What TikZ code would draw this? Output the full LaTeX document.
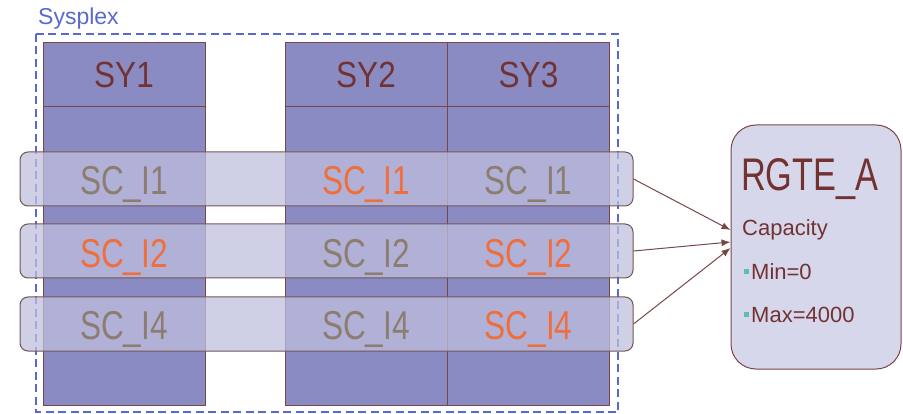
\documentclass[tikz,border=0pt]{standalone}
\usepackage{fontspec}
\setmainfont{Liberation Sans}
\usetikzlibrary{arrows.meta}
\definecolor{colfill}{RGB}{139,139,195}
\definecolor{edge}{RGB}{120,70,70}
\definecolor{bandfill}{RGB}{191,191,222}
\definecolor{bandedge}{RGB}{115,85,85}
\definecolor{grayt}{RGB}{140,125,112}
\definecolor{oranget}{RGB}{240,110,60}
\definecolor{syt}{RGB}{115,50,50}
\definecolor{sysblue}{RGB}{90,105,205}
\definecolor{boxfill}{RGB}{215,215,235}
\definecolor{teal}{RGB}{90,190,180}
\tikzset{
  colbox/.style={draw=edge,line width=1pt,fill=colfill,minimum width=162pt,minimum height=362pt,inner sep=0pt},
  band/.style={draw=bandedge,line width=1pt,fill=bandfill,fill opacity=0.75,rounded corners=8pt,minimum width=613pt,minimum height=54pt,inner sep=0pt},
  sclab/.style={anchor=base,inner sep=0pt,font=\fontsize{38}{38}\selectfont},
  sylab/.style={anchor=base,inner sep=0pt,text=syt,font=\fontsize{35}{35}\selectfont},
  arr/.style={draw=edge,line width=1pt,-{Latex[length=9pt,width=7pt]}},
  info/.style={anchor=base west,inner sep=0pt,text=syt,font=\fontsize{22}{22}\selectfont},
  bullet/.style={fill=teal,minimum size=5pt,inner sep=0pt}
}
\newcommand{\sq}[1]{\scalebox{0.83}[1.06]{#1}}
\begin{document}
\begin{tikzpicture}[x=1pt,y=-1pt]
\useasboundingbox (0,0) rectangle (903,414);
% sysplex
\node[anchor=base west,inner sep=0pt,text=sysblue,font=\fontsize{23}{23}\selectfont] (sysl) at (38,25) {Sysplex};
\draw[sysblue,line width=1.8pt,dash pattern=on 8pt off 4.5pt] (36,34) rectangle (618,412);
% columns
\node[colbox] (c1) at (124,224) {};
\node[colbox] (c2) at (366,224) {};
\node[colbox] (c3) at (528.5,224) {};
\foreach \c in {c1,c2,c3}{\draw[edge,line width=1pt] (\c.west |- 0,107) -- (\c.east |- 0,107);}
\node[sylab] (sy1) at (124,88) {\scalebox{0.9}[1.04]{SY1}};
\node[sylab] (sy2) at (366,88) {\scalebox{0.9}[1.04]{SY2}};
\node[sylab] (sy3) at (528.5,88) {\scalebox{0.9}[1.04]{SY3}};
% bands
\node[band] (b1) at (326.5,179) {};
\node[band] (b2) at (326.5,251) {};
\node[band] (b3) at (326.5,324) {};
% labels
\node[sclab,text=grayt]   (l11) at (124,195) {\sq{SC\_I1}};
\node[sclab,text=oranget] (l21) at (366,195) {\sq{SC\_I1}};
\node[sclab,text=grayt]   (l31) at (528.5,195) {\sq{SC\_I1}};
\node[sclab,text=oranget] (l12) at (124,268) {\sq{SC\_I2}};
\node[sclab,text=grayt]   (l22) at (366,268) {\sq{SC\_I2}};
\node[sclab,text=oranget] (l32) at (528.5,268) {\sq{SC\_I2}};
\node[sclab,text=grayt]   (l14) at (124,340) {\sq{SC\_I4}};
\node[sclab,text=grayt]   (l24) at (366,340) {\sq{SC\_I4}};
\node[sclab,text=oranget] (l34) at (528.5,340) {\sq{SC\_I4}};
% RGTE box
\node[draw=edge,line width=1pt,fill=boxfill,rounded corners=25pt,minimum width=170pt,minimum height=244pt,inner sep=0pt] (rg) at (816,247) {};
\node[anchor=base west,inner sep=0pt,text=syt,font=\fontsize{44}{44}\selectfont] (rgt) at (741,191) {\scalebox{0.78}[1.04]{RGTE\_A}};
\node[info] (cap) at (742,236) {Capacity};
\node[bullet] (bu1) at (746,272) {};
\node[info] (mn) at (751,280) {Min=0};
\node[bullet] (bu2) at (746,315) {};
\node[info] (mx) at (751,323) {Max=4000};
% arrows
\draw[arr] (b1.east) -- ([yshift=17pt]rg.west);
\draw[arr] (b2.east) -- ([yshift=5pt]rg.west);
\draw[arr] (b3.east) -- ([yshift=-1pt]rg.west);
\end{tikzpicture}
\end{document}
